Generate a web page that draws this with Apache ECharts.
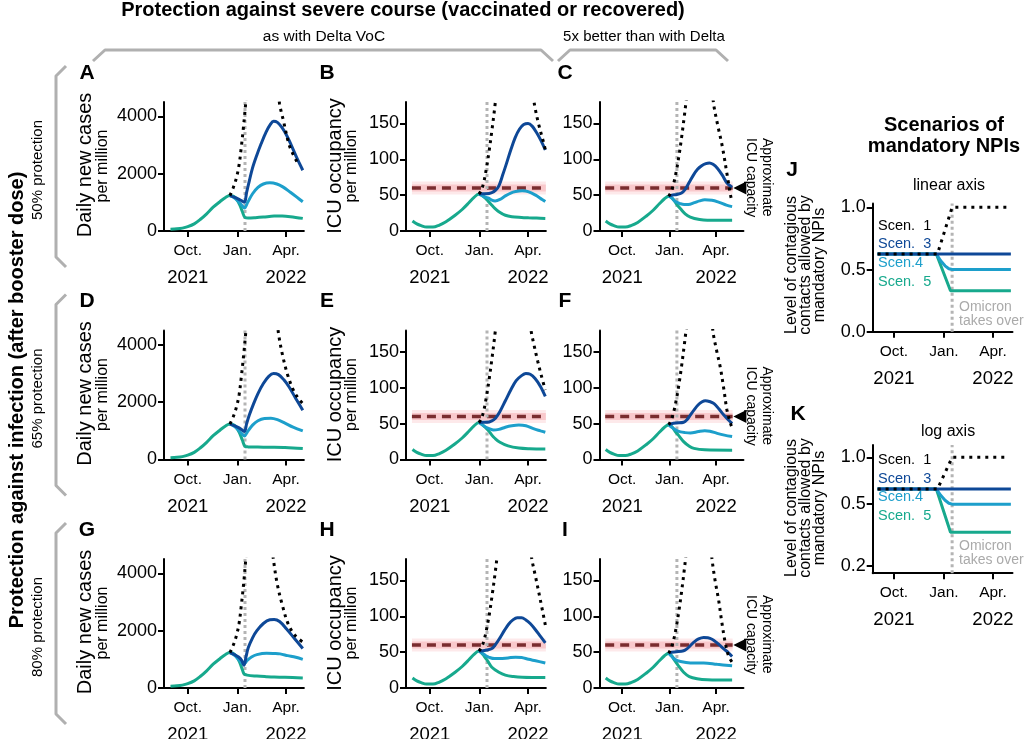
<!DOCTYPE html>
<html><head><meta charset="utf-8">
<script src="https://cdn.jsdelivr.net/npm/echarts@6/dist/echarts.min.js"></script>
<style>html,body{margin:0;padding:0;background:#fff}#c{width:1024px;height:739px}</style>
</head><body><div id="c"></div>
<script>
// ---------- tick labels / constants ----------
const xTickDays = [30, 122, 212];          // days since 1 Sep 2021: 1 Oct, 1 Jan, 1 Apr
const xTickMonths = ['Oct.', 'Jan.', 'Apr.'];
const xTickYears = ['2021', '', '2022'];
const casesTicks = [0, 2000, 4000];
const icuTicks = [0, 50, 100, 150];
const linTicks = [0, 0.5, 1.0];
const logTicks = [0.2, 0.5, 1.0];
const omicronDay = 136;
const icuCapacity = 60;

// ---------- Panel A (cases, 50%, Delta-like) ----------
const A_s5 = [[-2,60],[10,75],[20,100],[30,150],[42,250],[53,400],[65,600],[77,830],[90,1030],[100,1170],[108,1235],[114,1215],[120,1120],[126,920],[131,680],[136,470],[142,455],[155,465],[170,485],[190,520],[205,520],[220,500],[243,440]];
const A_s4 = [[108,1235],[116,1160],[124,1020],[130,900],[135,800],[141,1000],[150,1300],[160,1520],[170,1640],[182,1680],[195,1640],[206,1540],[220,1350],[232,1180],[243,1020]];
const A_s3 = [[108,1235],[116,1180],[124,1110],[130,1050],[135,1000],[139,1350],[144,1750],[150,2200],[158,2650],[166,3050],[175,3450],[183,3720],[189,3830],[196,3790],[204,3620],[213,3340],[222,2980],[232,2550],[243,2120]];
const A_s1up = [[108,1235],[114,1500],[120,1850],[125,2300],[129,2900],[133,3600],[137,4400],[141,5400]];
const A_s1down = [[195,5300],[200,4440],[207,3860],[217,3050],[224,2720],[232,2420]];
// ---------- Panel D (cases, 65%) ----------
const D_s5 = [[-2,60],[10,75],[20,100],[30,150],[42,250],[53,400],[65,600],[77,830],[90,1030],[100,1170],[108,1235],[114,1215],[120,1120],[126,920],[131,680],[136,460],[142,440],[155,435],[170,430],[190,430],[210,420],[225,405],[243,380]];
const D_s4 = [[108,1235],[116,1160],[124,1020],[130,900],[135,820],[141,980],[150,1200],[160,1350],[172,1430],[184,1440],[196,1390],[210,1270],[225,1130],[243,1000]];
const D_s3 = [[108,1235],[116,1180],[124,1110],[130,1040],[135,980],[139,1250],[144,1550],[152,1950],[160,2300],[170,2650],[180,2900],[189,3000],[198,2960],[208,2780],[218,2520],[230,2130],[243,1720]];
const D_s1up = [[108,1235],[114,1480],[120,1820],[125,2250],[129,2850],[133,3550],[137,4350],[141,5300]];
const D_s1down = [[193,5300],[198,4400],[206,3600],[215,2950],[226,2400],[236,2100],[243,1950]];
// ---------- Panel G (cases, 80%) ----------
const G_s5 = [[-2,60],[10,75],[20,100],[30,150],[42,250],[53,400],[65,600],[77,830],[90,1030],[100,1170],[108,1235],[114,1215],[120,1100],[126,900],[131,650],[134,500],[140,450],[158,416],[175,395],[190,381],[210,375],[243,350]];
const G_s4 = [[108,1235],[116,1150],[124,1000],[130,880],[134,840],[140,960],[148,1080],[158,1165],[176,1215],[190,1205],[201,1190],[215,1130],[230,1070],[243,1000]];
const G_s3 = [[108,1235],[116,1170],[124,1080],[130,960],[134,790],[138,1100],[142,1400],[150,1750],[158,2000],[170,2250],[182,2380],[190,2390],[200,2320],[213,2060],[228,1720],[243,1380]];
const G_s1up = [[108,1235],[114,1480],[120,1820],[125,2250],[129,2850],[133,3550],[137,4400],[141,5400]];
const G_s1down = [[183,5400],[189,4430],[196,3600],[205,2900],[216,2230],[228,1850],[243,1600]];
// ---------- Panel B (ICU, 50%, Delta-like) ----------
const B_s5 = [[-2,14],[6,10],[14,7.5],[24,5.5],[36,5.5],[47,8],[60,13],[77,22],[90,30],[102,39],[112,47],[121,51.5],[128,49],[134,45],[139,41],[145,36],[150,32],[158,27],[170,22],[182,20],[200,19],[213,18.5],[228,18],[244,17.5]];
const B_s4 = [[121,51.5],[128,49],[134,47],[139,46],[145,43],[151,42],[160,44],[170,49],[180,53],[189,55],[201,56],[212,55],[226,50],[238,44],[244,41]];
const B_s3 = [[121,51.5],[128,52],[135,52],[145,53.5],[152,57],[158,63],[165,78],[172,94],[180,113],[188,130],[196,142],[204,148.5],[212,150],[220,146],[228,137],[236,126],[244,113]];
const B_s1up = [[121,51.5],[125,56],[130,68],[135,88],[140,112],[145,140],[150,170],[154,198]];
const B_s1down = [[220,200],[224,176],[232,148],[242,120],[244,113]];
// ---------- Panel E (ICU, 65%) ----------
const E_s5 = [[-2,14],[6,10],[14,7.5],[24,5.5],[36,5.5],[47,8],[60,13],[77,22],[90,30],[102,39],[112,47],[121,51.5],[128,48],[134,44],[139,40],[145,34],[150,30],[160,24],[175,19],[195,16],[215,15],[244,14.5]];
const E_s4 = [[121,51.5],[128,48],[134,45],[140,43],[148,41],[158,42],[170,45],[182,47],[195,48],[208,47],[222,43],[235,40],[244,38]];
const E_s3 = [[121,51.5],[128,52],[136,52],[145,54],[152,58],[160,67],[170,82],[180,97],[190,110],[200,117],[208,120],[216,119],[225,113],[235,102],[244,88]];
const E_s1up = [[121,51.5],[125,56],[130,68],[135,88],[140,112],[145,140],[150,170],[154,198]];
const E_s1down = [[214,200],[218,178],[223,160],[230,137],[237,116],[244,97]];
// ---------- Panel H (ICU, 80%) ----------
const H_s5 = [[-2,14],[6,10],[14,7.5],[24,5.5],[36,5.5],[47,8],[60,13],[77,22],[90,30],[102,39],[112,47],[121,51.5],[128,47],[133,42],[137,38],[145,29],[158,22],[170,18],[185,16],[201,15],[244,14.5]];
const H_s4 = [[121,51.5],[128,48],[134,45],[139,43],[150,41],[160,41],[175,42],[189,43],[200,42.5],[213,40],[226,38],[244,35]];
const H_s3 = [[121,51.5],[128,52],[135,53],[145,55],[152,61],[160,70],[168,80],[176,89],[184,95],[192,98],[200,98],[208,95],[216,90],[225,82],[235,72],[244,63]];
const H_s1up = [[121,51.5],[126,57],[131,68],[136,85],[141,106],[146,132],[151,160],[155,185],[158,205]];
const H_s1down = [[215,205],[219,180],[226,155],[235,122],[244,88]];
// ---------- Panel C (ICU, 50%, 5x better) ----------
const C_s5 = [[-2,14],[6,10],[14,7.5],[24,5.5],[36,5.5],[47,7.5],[60,12],[77,21],[90,29],[102,38],[112,45],[120,48.5],[128,45],[136,37],[143,31],[152,24],[162,19.5],[180,16],[195,15],[243,15]];
const C_s4 = [[120,48.5],[126,46],[133,41],[143,38],[150,37],[158,37],[170,39.5],[180,42],[190,43.5],[204,43],[218,40],[232,36],[243,34]];
const C_s3 = [[120,48.5],[126,50],[136,51],[145,53],[152,58],[160,68],[168,78],[176,86],[184,91],[192,94],[199,95],[206,93],[214,88],[224,78],[233,67],[243,61]];
const C_s1up = [[120,48.5],[125,55],[130,67],[135,84],[140,105],[145,130],[150,158],[154,182],[157,203]];
const C_s1down = [[204,205],[207,178],[215,148],[224,118],[233,80],[240,50],[243,40]];
// ---------- Panel F (ICU, 65%, 5x better) ----------
const F_s5 = [[-2,14],[6,10],[14,7.5],[24,5.5],[36,5.5],[47,7.5],[60,12],[77,21],[90,29],[102,38],[112,45],[120,48.5],[126,46],[134,38],[140,33],[149,25],[160,18.5],[169,15.5],[190,13.5],[243,13]];
const F_s4 = [[120,48.5],[126,45],[134,41],[143,38.5],[152,37.5],[162,37],[178,39],[190,40],[200,39.5],[214,36.5],[228,34],[243,32]];
const F_s3 = [[120,48.5],[126,50],[135,51],[149,52],[156,56],[162,62],[169,69],[177,76],[185,80.5],[191,82],[199,81],[208,78],[218,70],[227,62],[236,55],[243,50]];
const F_s1up = [[120,48.5],[125,55],[130,67],[135,84],[140,105],[145,130],[150,158],[154,182],[157,203]];
const F_s1down = [[203,205],[206,178],[213,152],[220,129],[227,98],[233,69],[240,50],[243,44]];
// ---------- Panel I (ICU, 80%, 5x better) ----------
const I_s5 = [[-2,14],[6,10],[14,7.5],[24,5.5],[36,5.5],[47,7.5],[60,12],[77,21],[90,29],[102,38],[112,45],[120,48.5],[126,45],[132,38],[138,32],[149,22],[160,16],[175,13],[195,11.5],[243,11]];
const I_s4 = [[120,48.5],[126,44],[132,40],[143,37],[162,35],[188,35],[214,33],[243,31]];
const I_s3 = [[120,48.5],[126,50],[135,50.5],[149,52],[156,55],[162,59],[169,64],[178,68.5],[188,70.5],[196,70],[204,68],[212,64],[220,59],[228,54],[236,49],[243,44]];
const I_s1up = [[120,48.5],[125,56],[130,68],[135,86],[140,108],[145,134],[150,163],[154,188],[157,208]];
const I_s1down = [[201,205],[204,180],[210,150],[217,122],[223,92],[230,62],[236,45],[243,36]];
// ---------- Panels J/K: scenarios of mandatory NPIs ----------
const NPI_s1 = [[0,0.625],[110,0.625],[137,1.0],[240,1.0]];
const NPI_s3 = [[0,0.625],[245,0.625]];
const NPI_s4 = [[0,0.625],[108,0.625],[116,0.57],[124,0.53],[131,0.507],[137,0.5],[245,0.5]];
const NPI_s5 = [[0,0.625],[108,0.625],[134,0.33],[245,0.33]];
const scenLabels = ['Scen.  1', 'Scen.  3', 'Scen.4', 'Scen.  5'];

// ---------- styles ----------
const FONT = '"Liberation Sans", Arial, Helvetica, sans-serif';
const COL1 = '#000000', COL3 = '#0e4897', COL4 = '#1d9fcb', COL5 = '#17a98d';
const GREY = '#b4b4b4', BRACKET = '#b0b0b0';
const CAP = '#7a2d2f';

const panels = [
  {k:'A', kind:'cases', col:0, row:0, d:[A_s5,A_s4,A_s3,A_s1up,A_s1down]},
  {k:'B', kind:'icu',   col:1, row:0, d:[B_s5,B_s4,B_s3,B_s1up,B_s1down]},
  {k:'C', kind:'icu',   col:2, row:0, d:[C_s5,C_s4,C_s3,C_s1up,C_s1down]},
  {k:'D', kind:'cases', col:0, row:1, d:[D_s5,D_s4,D_s3,D_s1up,D_s1down]},
  {k:'E', kind:'icu',   col:1, row:1, d:[E_s5,E_s4,E_s3,E_s1up,E_s1down]},
  {k:'F', kind:'icu',   col:2, row:1, d:[F_s5,F_s4,F_s3,F_s1up,F_s1down]},
  {k:'G', kind:'cases', col:0, row:2, d:[G_s5,G_s4,G_s3,G_s1up,G_s1down]},
  {k:'H', kind:'icu',   col:1, row:2, d:[H_s5,H_s4,H_s3,H_s1up,H_s1down]},
  {k:'I', kind:'icu',   col:2, row:2, d:[I_s5,I_s4,I_s3,I_s1up,I_s1down]}
];

const colLeft = [164, 406, 599.5], colXMax = [245, 245, 265], colScale = [0.54, 0.54, 0.516];
const rowZero = [231, 459.5, 688], plotH = 129, xMin = -14;

function fmtX(v) {
  const i = xTickDays.indexOf(Math.round(v));
  if (i < 0) return '';
  return xTickYears[i] ? '{m|' + xTickMonths[i] + '}\n{y|' + xTickYears[i] + '}' : '{m|' + xTickMonths[i] + '}';
}
const richX = {
  m: {fontSize: 15.5, lineHeight: 24, fontFamily: FONT, color: '#000'},
  y: {fontSize: 18.5, lineHeight: 30, fontFamily: FONT, color: '#000'}
};
function xAxisCfg(gi, min, max) {
  return {type:'value', gridIndex: gi, min: min, max: max,
    axisLine:{show:true, onZero:false, lineStyle:{color:'#000', width:2}},
    axisTick:{show:true, customValues: xTickDays, length:6, lineStyle:{color:'#000', width:2}},
    axisLabel:{show:true, customValues: xTickDays, formatter: fmtX, margin: 8, rich: richX, color:'#000'},
    splitLine:{show:false}};
}
function yAxisCfg(gi, type, min, max, ticks, fmt) {
  return {type: type, gridIndex: gi, min: min, max: max,
    axisLine:{show:true, onZero:false, lineStyle:{color:'#000', width:2}},
    axisTick:{show:true, customValues: ticks, length:6, lineStyle:{color:'#000', width:2}},
    axisLabel:{show:true, customValues: ticks, formatter: fmt, margin: 7, fontSize: 18, fontFamily: FONT, color:'#000'},
    splitLine:{show:false}, minorTick:{show:false}};
}
function lineS(gi, data, color, opts) {
  return Object.assign({type:'line', xAxisIndex: gi, yAxisIndex: gi, data: data, showSymbol:false, symbol:'none',
    smooth: 0.35, clip: true, silent: true,
    lineStyle:{color: color, width: 3}}, opts || {});
}

const grids = [], xAxes = [], yAxes = [], series = [], graphics = [];
const DOTS = [3, 4.5];

panels.forEach((p, gi) => {
  const left = colLeft[p.col], xmax = colXMax[p.col];
  const width = (xmax - xMin) * colScale[p.col];
  const top = rowZero[p.row] - plotH;
  grids.push({left: left, top: top, width: width, height: plotH, outerBoundsMode: 'none', containLabel: false});
  xAxes.push(xAxisCfg(gi, xMin, xmax));
  const ymax = p.kind === 'cases' ? 4500 : 180;
  yAxes.push(yAxisCfg(gi, 'value', 0, ymax, p.kind === 'cases' ? casesTicks : icuTicks, v => String(v)));
  const lastDay = p.d[0][p.d[0].length - 1][0];
  if (p.kind === 'icu') {
    const capLine = [[-3, icuCapacity], [lastDay + 1, icuCapacity]];
    series.push(lineS(gi, capLine, 'rgba(240,120,125,0.16)', {smooth:false, lineStyle:{color:'rgba(240,120,125,0.16)', width:13}}));
    series.push(lineS(gi, capLine, 'rgba(240,120,125,0.28)', {smooth:false, lineStyle:{color:'rgba(240,120,125,0.28)', width:7}}));
    series.push(lineS(gi, capLine, CAP, {smooth:false, lineStyle:{color:CAP, width:3.5, type:[9,6]}}));
  }
  series.push(lineS(gi, [[omicronDay, 0], [omicronDay, ymax]], GREY, {smooth:false, lineStyle:{color:GREY, width:3, type:[3,3]}}));
  series.push(lineS(gi, p.d[0], COL5));
  series.push(lineS(gi, p.d[1], COL4));
  series.push(lineS(gi, p.d[2], COL3));
  series.push(lineS(gi, p.d[3], COL1, {lineStyle:{color:COL1, width:3, type:DOTS}}));
  series.push(lineS(gi, p.d[4], COL1, {lineStyle:{color:COL1, width:3, type:DOTS}}));
  if (p.col === 2) {
    series.push({type:'scatter', xAxisIndex: gi, yAxisIndex: gi, data:[[258, icuCapacity]], symbol:'triangle',
      symbolRotate: 90, symbolSize:[13, 13], itemStyle:{color:'#000', opacity:1}, silent:true, clip:false, z: 10});
  }
});

// J (linear) and K (log)
const npiLeft = 872.7, npiXMin = -9, npiXMax = 248, npiW = (248 + 9) * 0.544;
[['J', 'value', 0, 1.03, 203.6, linTicks, v => v.toFixed(1)], ['K', 'log', 0.18, 1.2, 445, logTicks, v => Number(v).toFixed(1)]].forEach((q, j) => {
  const gi = 9 + j;
  grids.push({left: npiLeft, top: q[4], width: npiW, height: 128.2, outerBoundsMode: 'none', containLabel: false});
  xAxes.push(xAxisCfg(gi, npiXMin, npiXMax));
  const ya = yAxisCfg(gi, q[1], q[2], q[3], q[5], q[6]);
  if (q[1] === 'log') ya.logBase = 10;
  yAxes.push(ya);
  series.push(lineS(gi, [[137, q[2]], [137, q[3]]], GREY, {smooth:false, lineStyle:{color:GREY, width:3, type:[3,3]}}));
  series.push(lineS(gi, NPI_s5, COL5, {smooth:false}));
  series.push(lineS(gi, NPI_s4, COL4, {smooth:false}));
  series.push(lineS(gi, NPI_s3, COL3, {smooth:false}));
  series.push(lineS(gi, NPI_s1, COL1, {smooth:false, lineStyle:{color:COL1, width:3, type:[3,5]}}));
});

// ---------- text & decorations ----------
function txt(x, y, s, o) {
  o = o || {};
  return {type:'text', x: x, y: y, rotation: o.rot || 0, silent: true, z: 100,
    style:{text: s, fill: o.color || '#000', font: (o.bold ? 'bold ' : '') + (o.size || 14) + 'px ' + FONT,
      align: o.align || 'center', verticalAlign: o.va || 'middle', lineHeight: o.lh}};
}
function poly(pts) {
  return {type:'polyline', silent:true, z: 50, shape:{points: pts}, style:{stroke: BRACKET, lineWidth: 3, fill: null, lineJoin:'round'}};
}
graphics.push(txt(403, 10, 'Protection against severe course (vaccinated or recovered)', {bold:true, size:20}));
graphics.push(txt(324, 37, 'as with Delta VoC', {size:15.5}));
graphics.push(txt(644, 37, '5x better than with Delta', {size:15}));
graphics.push(poly([[93,61],[105,50],[541,50],[553,61]]));
graphics.push(poly([[558,61],[570,50],[716,50],[728,61]]));
graphics.push(txt(17, 400, 'Protection against infection (after booster dose)', {bold:true, size:20, rot: Math.PI/2}));
['50% protection', '65% protection', '80% protection'].forEach((s, r) => {
  const off = 228.5 * r;
  graphics.push(txt(38, 170 + off, s, {size:15, rot: Math.PI/2}));
  graphics.push(poly([[66, 66 + off], [56, 76 + off], [56, 257 + off], [66, 267 + off]]));
  graphics.push(txt(85, 165 + off, 'Daily new cases', {size:20, rot: Math.PI/2}));
  graphics.push(txt(102.5, 166 + off, 'per million', {size:16, rot: Math.PI/2}));
  graphics.push(txt(335, 166 + off, 'ICU occupancy', {size:20, rot: Math.PI/2}));
  graphics.push(txt(352, 166 + off, 'per million', {size:16, rot: Math.PI/2}));
  graphics.push(txt(766.5, 138 + off, 'Approximate', {size:14, rot: -Math.PI/2, align:'left'}));
  graphics.push(txt(750.5, 138 + off, 'ICU capacity', {size:14, rot: -Math.PI/2, align:'left'}));
});
const letterX = [87, 327, 565];
panels.forEach(p => graphics.push(txt(letterX[p.col], 73 + 228.5 * p.row, p.k, {bold:true, size:21})));
graphics.push(txt(944, 125, 'Scenarios of', {bold:true, size:20}));
graphics.push(txt(944, 146, 'mandatory NPIs', {bold:true, size:20}));
graphics.push(txt(792, 170, 'J', {bold:true, size:21}));
graphics.push(txt(798, 414, 'K', {bold:true, size:21}));
graphics.push(txt(949, 186, 'linear axis', {size:16}));
graphics.push(txt(948, 432, 'log axis', {size:16}));
const scenColors = [COL1, COL3, COL4, COL5];
[[226, 244, 263, 282], [460, 479, 497, 516]].forEach((ys, j) => {
  ys.forEach((y, i) => graphics.push(txt(878, y, scenLabels[i], {size:14.5, color: scenColors[i], align:'left'})));
  const oy = j === 0 ? 306.7 : 545.7;
  graphics.push(txt(959, oy, 'Omicron', {size:14, color: '#aaaaaa', align:'left'}));
  graphics.push(txt(959, oy + 14, 'takes over', {size:14, color: '#aaaaaa', align:'left'}));
  graphics.push(txt(806, j === 0 ? 265 : 508, 'Level of contagious\ncontacts allowed by\nmandatory NPIs', {size:16, lh:14, rot: Math.PI/2}));
});

const chart = echarts.init(document.getElementById('c'), null, {renderer:'canvas'});
chart.setOption({
  animation: false,
  backgroundColor: '#fff',
  textStyle: {fontFamily: FONT},
  grid: grids, xAxis: xAxes, yAxis: yAxes, series: series, graphic: graphics
});
</script></body></html>
